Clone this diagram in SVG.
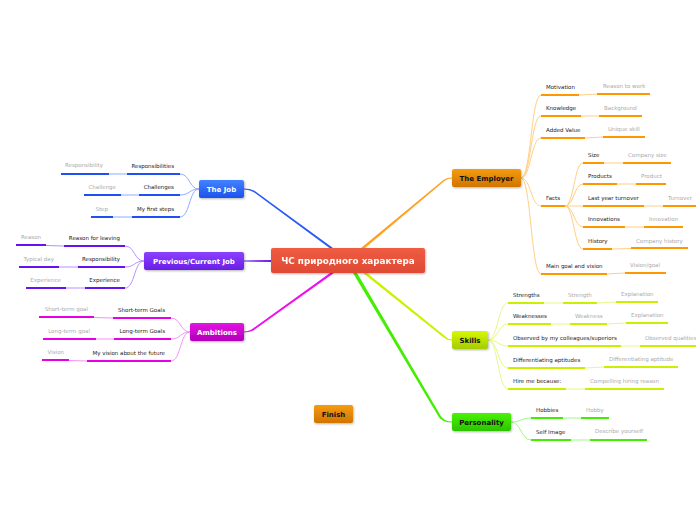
<svg xmlns="http://www.w3.org/2000/svg" width="696" height="520" viewBox="0 0 696 520">
<style>
.t{font-family:"DejaVu Sans",sans-serif;font-size:5.5px;fill:#222}
.g{font-family:"DejaVu Sans",sans-serif;font-size:5.5px;fill:#aaa}
.e{text-anchor:end}
.m{font-family:"DejaVu Sans",sans-serif;font-weight:bold;font-size:7px;text-anchor:middle;fill:#fff}
.k{fill:#111}
.bar{stroke-width:2.2;stroke-linecap:butt;fill:none}
.c{stroke-width:1;fill:none}
.bB{stroke:#1f50f5}.cB{stroke:#8eabff}
.bP{stroke:#6414f0}.cP{stroke:#b592ff}
.bM{stroke:#e600e6}.cM{stroke:#f592f5}
.bO{stroke:#ff9800}.cO{stroke:#ffcf85}
.bY{stroke:#ccee00}.cY{stroke:#e8f78a}
.bG{stroke:#44ee00}.cG{stroke:#a2f785}
</style>
<defs>
<filter id="sh" x="-20%" y="-30%" width="140%" height="170%"><feDropShadow dx="0.8" dy="1" stdDeviation="0.8" flood-color="#000" flood-opacity="0.3"/></filter>
<linearGradient id="gB" x1="0" y1="0" x2="0" y2="1"><stop offset="0" stop-color="#4282ff"/><stop offset="1" stop-color="#1c52ec"/></linearGradient>
<linearGradient id="gP" x1="0" y1="0" x2="0" y2="1"><stop offset="0" stop-color="#8c40ff"/><stop offset="1" stop-color="#6a1ee6"/></linearGradient>
<linearGradient id="gM" x1="0" y1="0" x2="0" y2="1"><stop offset="0" stop-color="#e414e4"/><stop offset="1" stop-color="#b000b8"/></linearGradient>
<linearGradient id="gO" x1="0" y1="0" x2="0" y2="1"><stop offset="0" stop-color="#f59c12"/><stop offset="1" stop-color="#d07400"/></linearGradient>
<linearGradient id="gY" x1="0" y1="0" x2="0" y2="1"><stop offset="0" stop-color="#d8f800"/><stop offset="1" stop-color="#a4cc00"/></linearGradient>
<linearGradient id="gG" x1="0" y1="0" x2="0" y2="1"><stop offset="0" stop-color="#48f400"/><stop offset="1" stop-color="#2cc400"/></linearGradient>
<linearGradient id="gR" x1="0" y1="0" x2="0" y2="1"><stop offset="0" stop-color="#ee5c42"/><stop offset="1" stop-color="#e04a34"/></linearGradient>
</defs>
<rect width="696" height="520" fill="#fff"/>
<g id="connectors">
<path d="M333,248 L254.5,190.7 Q250,188.5 244,188.5 L244,189.5 Q249.5,189.5 253.5,192 L329.5,248 Z" fill="#2a5cf5"/>
<path d="M361,248 L444,179.5 Q447,177.5 452,177.5 L452,178.5 Q447.5,178.5 445,180.5 L365,248 Z" fill="#ffa020"/>
<path d="M271,259.9 L271,262.1 L244,261.5 L244,260.5 Z" fill="#6a1ee8"/>
<path d="M334,273 L253,330.8 Q249,332.5 244,332.5 L244,331.5 Q248,331.5 251.5,329.5 L330,273 Z" fill="#ee10ee"/>
<path d="M353,273 L438.5,416.5 Q442,422.5 452,422.5 L452,421.5 Q444,421.5 440.5,415.5 L357,273 Z" fill="#44ee00"/>
<path d="M363,273 L444,337.8 Q447,340.5 452,340.5 L452,339.5 Q448,339.5 445.5,336.6 L367,273 Z" fill="#ccf000"/>
<path class="c cB" d="M199,189 C189,189 190,174 180,174 M199,189 C189,189 190,195 180,195 M199,189 C189,189 190,217 180,217 M109,174 L127,174 M121,195 L139,195 M113,217 L132,217"/>
<path class="c cP" d="M144,261 C134,261 135,246 125,246 M144,261 C134,261 135,267 125,267 M144,261 C134,261 135,288 125,288 M46,245.5 L64,246 M59,267 L78,267 M66,288 L85,288"/>
<path class="c cM" d="M190,332 C180,332 181,318 171,318 M190,332 C180,332 181,339 171,339 M190,332 C180,332 181,361 171,361 M94,317.5 L113,318 M96,339 L114,339 M69,360.5 L87,361"/>
<path class="c cO" d="M521,178 C531,178 531,95 541,95 M521,178 C531,178 531,116 541,116 M521,178 C531,178 531,138 541,138 M521,178 C531,178 531,206 541,206 M521,178 C531,178 531,274 541,274 M579,95 L597,94 M581,116 L599,116 M585,138 L603,137 M607,274 L625,273 M565,206 C574,206 574,163 583,163 M565,206 C574,206 574,184 583,184 M565,206 L583,206 M565,206 C574,206 574,227 583,227 M565,206 C574,206 574,249 583,249 M604,163 L623,163 M617,184 L636,184 M644,206 L663,206 M625,227 L644,227 M612,249 L631,248.5"/>
<path class="c cY" d="M488,340 C498,340 498,303 508,303 M488,340 C498,340 498,324 508,324 M488,340 C498,340 498,346 508,346 M488,340 C498,340 498,368 508,368 M488,340 C498,340 498,389 508,389 M544,303 L563,303 M597,303 L616,302 M551,324 L570,324 M607,324 L626,323 M621,346 L640,346 M585,368 L604,367 M566,389 L585,389"/>
<path class="c cG" d="M511,422 C521,422 521,418 531,418 M511,422 C521,422 521,440 531,440 M563,418 L581,418 M571,440 L590,440"/>
</g>
<g id="center" filter="url(#sh)"><rect x="271" y="248" width="154" height="25" rx="2" fill="url(#gR)"/><text class="m" x="348" y="264.2" style="font-size:8.8px">ЧС природного характера</text></g>
<g id="the-job">
<rect x="199" y="180" width="45" height="18" rx="2" fill="url(#gB)" filter="url(#sh)"/><text class="m" x="221.5" y="191.5">The Job</text>
<path class="bar bB" d="M127,174 H180 M61,174 H109 M139,195 H180 M84,195 H121 M132,217 H180 M91,217 H113"/>
<text class="t e" x="174" y="168">Responsibilities</text><text class="g e" x="103" y="167">Responsibility</text>
<text class="t e" x="174" y="189">Challenges</text><text class="g e" x="116" y="188.5">Challenge</text>
<text class="t e" x="174" y="211">My first steps</text><text class="g e" x="108" y="210.5">Step</text>
</g>
<g id="previous-job">
<rect x="144" y="252" width="100" height="18" rx="2" fill="url(#gP)" filter="url(#sh)"/><text class="m" x="194" y="263.5">Previous/Current Job</text>
<path class="bar bP" d="M64,246 H125 M16,245 H46 M78,267 H125 M19,267 H59 M85,288 H125 M26,288 H66"/>
<text class="t e" x="120" y="240">Reason for leaving</text><text class="g e" x="41" y="239">Reason</text>
<text class="t e" x="120" y="261">Responsibility</text><text class="g e" x="54" y="261">Typical day</text>
<text class="t e" x="120" y="282">Experience</text><text class="g e" x="61" y="282">Experience</text>
</g>
<g id="ambitions">
<rect x="190" y="323" width="54" height="18" rx="2" fill="url(#gM)" filter="url(#sh)"/><text class="m" x="217" y="334.5">Ambitions</text>
<path class="bar bM" d="M113,318 H171 M39,317 H94 M114,339 H171 M43,339 H96 M87,361 H171 M42,360 H69"/>
<text class="t e" x="165" y="312">Short-term Goals</text><text class="g e" x="88" y="311">Short-term goal</text>
<text class="t e" x="165" y="333">Long-term Goals</text><text class="g e" x="90" y="333">Long-term goal</text>
<text class="t e" x="165" y="355">My vision about the future</text><text class="g e" x="64" y="354">Vision</text>
</g>
<g id="the-employer">
<rect x="452" y="169" width="69" height="18" rx="2" fill="url(#gO)" filter="url(#sh)"/><text class="m k" x="486.5" y="180.5">The Employer</text>
<path class="bar bO" d="M541,95 H579 M597,94 H650 M541,116 H581 M599,116 H642 M541,138 H585 M603,137 H645 M541,206 H565 M541,274 H607 M625,273 H666 M583,163 H604 M623,163 H671 M583,184 H617 M636,184 H666 M583,206 H644 M663,206 H696 M583,227 H625 M644,227 H683 M583,249 H612 M631,248 H688"/>
<text class="t" x="546" y="89">Motivation</text><text class="g" x="603" y="88">Reason to work</text>
<text class="t" x="546" y="110">Knowledge</text><text class="g" x="604" y="110">Background</text>
<text class="t" x="546" y="132">Added Value</text><text class="g" x="608" y="131">Unique skill</text>
<text class="t" x="546" y="200">Facts</text>
<text class="t" x="588" y="157">Size</text><text class="g" x="628" y="157">Company size</text>
<text class="t" x="588" y="178">Products</text><text class="g" x="641" y="178">Product</text>
<text class="t" x="588" y="200">Last year turnover</text><text class="g" x="668" y="200">Turnover</text>
<text class="t" x="588" y="221">Innovations</text><text class="g" x="649" y="221">Innovation</text>
<text class="t" x="588" y="243">History</text><text class="g" x="636" y="243">Company history</text>
<text class="t" x="546" y="268">Main goal and vision</text><text class="g" x="630" y="267">Vision/goal</text>
</g>
<g id="skills">
<rect x="452" y="331" width="36" height="18" rx="2" fill="url(#gY)" filter="url(#sh)"/><text class="m k" x="470" y="342.5">Skills</text>
<path class="bar bY" d="M508,303 H544 M563,303 H597 M616,302 H658 M508,324 H551 M570,324 H607 M626,323 H668 M508,346 H621 M640,346 H696 M508,368 H585 M604,367 H678 M508,389 H566 M585,389 H664"/>
<text class="t" x="513" y="297">Strengths</text><text class="g" x="568" y="297">Strength</text><text class="g" x="621" y="296">Explanation</text>
<text class="t" x="513" y="318">Weaknesses</text><text class="g" x="575" y="318">Weakness</text><text class="g" x="631" y="317">Explanation</text>
<text class="t" x="513" y="340">Observed by my colleagues/superiors</text><text class="g" x="645" y="340">Observed qualities</text>
<text class="t" x="513" y="362">Differentiating aptitudes</text><text class="g" x="609" y="361">Differentiating aptitude</text>
<text class="t" x="513" y="383">Hire me because:</text><text class="g" x="590" y="383">Compelling hiring reason</text>
</g>
<g id="personality">
<rect x="452" y="413" width="59" height="18" rx="2" fill="url(#gG)" filter="url(#sh)"/><text class="m k" x="481.5" y="424.5">Personality</text>
<path class="bar bG" d="M531,418 H563 M581,418 H609 M531,440 H571 M590,440 H647"/>
<text class="t" x="536" y="412">Hobbies</text><text class="g" x="586" y="412">Hobby</text>
<text class="t" x="536" y="434">Self Image</text><text class="g" x="595" y="433">Describe yourself</text>
</g>
<g id="finish">
<rect x="314" y="405" width="39" height="18" rx="2" fill="url(#gO)" filter="url(#sh)"/><text class="m k" x="333.5" y="416.5">Finish</text>
</g>
</svg>
